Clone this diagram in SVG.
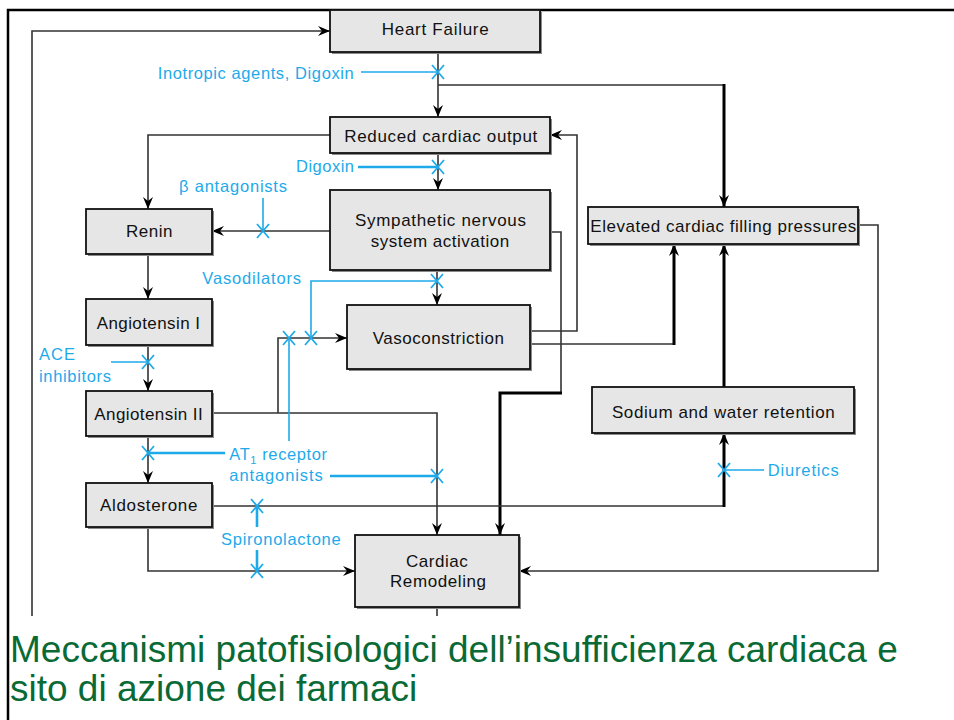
<svg xmlns="http://www.w3.org/2000/svg" width="954" height="720" viewBox="0 0 954 720">
<defs>
<style>
.box{fill:#e6e6e6;stroke:#111;stroke-width:1.8}
.sh{fill:#8a8a8a}
.bt{font-family:"Liberation Sans",Arial,sans-serif;font-size:17px;fill:#111;text-anchor:middle}
.dt{font-family:"Liberation Sans",Arial,sans-serif;font-size:16.5px;fill:#1eaaea}
.ln{fill:none;stroke:#333;stroke-width:1.6}
.tk{fill:none;stroke:#000;stroke-width:3}
.bl{fill:none;stroke:#1eaaea;stroke-width:1.6}
.blt{fill:none;stroke:#1eaaea;stroke-width:2.6}
.title{font-family:"Liberation Sans",Arial,sans-serif;font-size:37px;fill:#0a6a35}
</style>
<marker id="ah" viewBox="0 0 12 10" markerWidth="12" markerHeight="10" refX="12" refY="5" orient="auto" markerUnits="userSpaceOnUse">
<path d="M0,0 L12,5 L0,10 L4,5 Z" fill="#000"/>
</marker>
<path id="xm" d="M-6,-7 L6,7 M-6,7 L6,-7" fill="none" stroke="#1eaaea" stroke-width="1.8"/>
</defs>
<rect width="954" height="720" fill="#fff"/>
<!-- frame -->
<path d="M8,720 L8,10 L954,10" fill="none" stroke="#000" stroke-width="2.5"/>

<g id="connectors">
<path class="ln" d="M437,607 L437,616"/>
<path class="ln" d="M32,616 L32,31 L330,31" marker-end="url(#ah)"/>
<path class="ln" d="M438,52 L438,117" marker-end="url(#ah)"/>
<path class="ln" d="M438,85 L724,85"/>
<path class="tk" d="M724,84 L724,207" marker-end="url(#ah)"/>
<path class="ln" d="M330,135 L148,135 L148,209" marker-end="url(#ah)"/>
<path class="ln" d="M438,153 L438,190" marker-end="url(#ah)"/>
<path class="ln" d="M330,231 L212,231" marker-end="url(#ah)"/>
<path class="ln" d="M148,254 L148,299" marker-end="url(#ah)"/>
<path class="ln" d="M148,345 L148,391" marker-end="url(#ah)"/>
<path class="ln" d="M148,436 L148,483" marker-end="url(#ah)"/>
<path class="ln" d="M212,413 L437,413 L437,535" marker-end="url(#ah)"/>
<path class="ln" d="M278,413 L278,338 L347,338" marker-end="url(#ah)"/>
<path class="ln" d="M437,270 L437,305" marker-end="url(#ah)"/>
<path class="ln" d="M530,331 L577,331 L577,135 L550,135" marker-end="url(#ah)"/>
<path class="ln" d="M530,344 L674,344"/>
<path class="tk" d="M674,345 L674,244" marker-end="url(#ah)"/>
<path class="ln" d="M550,232 L561,232 L561,393"/>
<path class="tk" d="M562,393 L500,393 L500,535" marker-end="url(#ah)"/>
<path class="ln" d="M858,225 L878,225 L878,571 L519,571" marker-end="url(#ah)"/>
<path class="tk" d="M724,387 L724,244" marker-end="url(#ah)"/>
<path class="ln" d="M212,506 L724,506"/>
<path class="tk" d="M724,507 L724,433" marker-end="url(#ah)"/>
<path class="ln" d="M148,527 L148,571 L355,571" marker-end="url(#ah)"/>
</g>

<g id="drugs">
<path class="bl" d="M361,72 L438,72"/><use href="#xm" x="438" y="72"/>
<text class="dt" x="157.7" y="78.5" textLength="196" lengthAdjust="spacing">Inotropic agents, Digoxin</text>
<path class="blt" d="M358,167 L438,167"/><use href="#xm" x="438" y="167"/>
<text class="dt" x="296" y="172" textLength="58" lengthAdjust="spacing">Digoxin</text>
<path class="bl" d="M263,198 L263,231"/><use href="#xm" x="263" y="231"/>
<text class="dt" x="179" y="192" textLength="108" lengthAdjust="spacing">β antagonists</text>
<path class="bl" d="M437,281 L311,281 L311,338"/><use href="#xm" x="437" y="281"/><use href="#xm" x="311" y="338"/>
<text class="dt" x="202.3" y="284.3" textLength="98.7" lengthAdjust="spacing">Vasodilators</text>
<path class="bl" d="M111,362 L148,362"/><use href="#xm" x="148" y="362"/>
<text class="dt" x="39" y="360" textLength="36" lengthAdjust="spacing">ACE</text>
<text class="dt" x="39" y="381.7" textLength="72" lengthAdjust="spacing">inhibitors</text>
<path class="blt" d="M225,453 L148,453"/><use href="#xm" x="148" y="453"/>
<path class="blt" d="M330,476 L437,476"/><use href="#xm" x="437" y="476"/>
<path class="bl" d="M289,338 L289,441"/><use href="#xm" x="289" y="338"/>
<text class="dt" x="229.3" y="460" letter-spacing="0.6">AT<tspan font-size="11" dy="4">1</tspan><tspan dy="-4"> receptor</tspan></text>
<text class="dt" x="229.3" y="480.7" textLength="93.4" lengthAdjust="spacing">antagonists</text>
<path class="blt" d="M257,506 L257,527 M257,550 L257,571"/><use href="#xm" x="257" y="506"/><use href="#xm" x="257" y="571"/>
<text class="dt" x="221" y="545" textLength="119.7" lengthAdjust="spacing">Spironolactone</text>
<path class="bl" d="M724,470 L764,470"/><use href="#xm" x="724" y="470"/>
<text class="dt" x="767.7" y="476" textLength="71" lengthAdjust="spacing">Diuretics</text>
</g>

<g id="heart-failure"><rect class="sh" x="332" y="12" width="210" height="42"/><rect class="box" x="330" y="10" width="210" height="42"/><text class="bt" x="435.2" y="35" textLength="107" lengthAdjust="spacing">Heart Failure</text></g>
<g id="reduced-output"><rect class="sh" x="332" y="119" width="220" height="36"/><rect class="box" x="330" y="117" width="220" height="36"/><text class="bt" x="440.8" y="141.5" textLength="193" lengthAdjust="spacing">Reduced cardiac output</text></g>
<g id="sympathetic"><rect class="sh" x="332" y="192" width="220" height="80"/><rect class="box" x="330" y="190" width="220" height="80"/><text class="bt" x="440.5" y="226" textLength="171" lengthAdjust="spacing">Sympathetic nervous</text><text class="bt" x="440" y="246.7" textLength="138.6" lengthAdjust="spacing">system activation</text></g>
<g id="vasoconstriction"><rect class="sh" x="349" y="307" width="183" height="64"/><rect class="box" x="347" y="305" width="183" height="64"/><text class="bt" x="438.3" y="344" textLength="131.3" lengthAdjust="spacing">Vasoconstriction</text></g>
<g id="elevated-pressures"><rect class="sh" x="590" y="209" width="270" height="37"/><rect class="box" x="588" y="207" width="270" height="37"/><text class="bt" x="723.3" y="231.7" textLength="266" lengthAdjust="spacing">Elevated cardiac filling pressures</text></g>
<g id="sodium-water"><rect class="sh" x="594" y="389" width="262" height="46"/><rect class="box" x="592" y="387" width="262" height="46"/><text class="bt" x="723.3" y="417.7" textLength="222.7" lengthAdjust="spacing">Sodium and water retention</text></g>
<g id="renin"><rect class="sh" x="88" y="211" width="126" height="45"/><rect class="box" x="86" y="209" width="126" height="45"/><text class="bt" x="149.2" y="237.3" textLength="46.3" lengthAdjust="spacing">Renin</text></g>
<g id="angiotensin-1"><rect class="sh" x="88" y="301" width="126" height="46"/><rect class="box" x="86" y="299" width="126" height="46"/><text class="bt" x="148.3" y="329" textLength="103.3" lengthAdjust="spacing">Angiotensin I</text></g>
<g id="angiotensin-2"><rect class="sh" x="88" y="393" width="126" height="45"/><rect class="box" x="86" y="391" width="126" height="45"/><text class="bt" x="148.5" y="420" textLength="108.4" lengthAdjust="spacing">Angiotensin II</text></g>
<g id="aldosterone"><rect class="sh" x="88" y="485" width="126" height="44"/><rect class="box" x="86" y="483" width="126" height="44"/><text class="bt" x="148.7" y="510.7" textLength="97.3" lengthAdjust="spacing">Aldosterone</text></g>
<g id="cardiac-remodeling"><rect class="sh" x="357" y="537" width="164" height="72"/><rect class="box" x="355" y="535" width="164" height="72"/><text class="bt" x="436.8" y="566.7" textLength="61.7" lengthAdjust="spacing">Cardiac</text><text class="bt" x="438" y="586.7" textLength="96" lengthAdjust="spacing">Remodeling</text></g>

<g id="caption">
<text class="title" x="10" y="662">Meccanismi patofisiologici dell’insufficienza cardiaca e</text>
<text class="title" x="10" y="701">sito di azione dei farmaci</text>
</g>
</svg>
